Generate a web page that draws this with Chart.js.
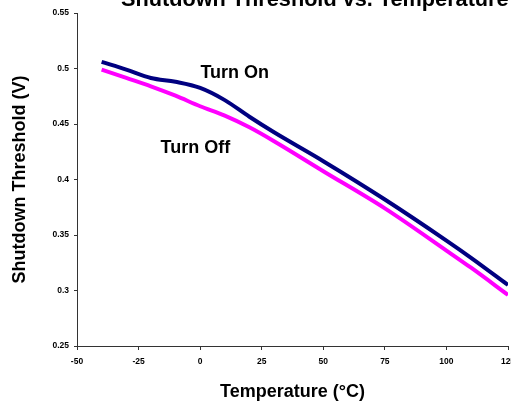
<!DOCTYPE html>
<html>
<head>
<meta charset="utf-8">
<script src="https://cdn.jsdelivr.net/npm/chart.js@4/dist/chart.umd.min.js"></script>
<style>
  html, body { margin: 0; padding: 0; background: #fff; }
  canvas { display: block; }
</style>
</head>
<body>
<canvas id="thresholdChart" width="511" height="405"></canvas>
<script>
const chartTitle = 'Shutdown Threshold vs. Temperature';
const xAxisTitle = 'Temperature (°C)';
const yAxisTitle = 'Shutdown Threshold (V)';

const temps = [-40, -30, -20, -10, 0, 10, 20, 30, 50, 75, 100, 110, 125];
const turnOn = [0.506, 0.499, 0.4915, 0.488, 0.4825, 0.4715, 0.4565, 0.4425, 0.4165, 0.382, 0.345, 0.3295, 0.305];
const turnOff = [0.499, 0.4915, 0.484, 0.4755, 0.466, 0.4575, 0.447, 0.4345, 0.4075, 0.374, 0.336, 0.3205, 0.296];

const xTicks = [-50, -25, 0, 25, 50, 75, 100, 125];
const yTicks = [0.25, 0.3, 0.35, 0.4, 0.45, 0.5, 0.55];

const seriesNames = ['Turn On', 'Turn Off'];

document.addEventListener('DOMContentLoaded', () => {
  renderChart();
});

function toPoints(xs, ys) {
  return xs.map((x, i) => ({ x: x, y: ys[i] }));
}

// draws the clipped title and the in-plot series labels
const textPlugin = {
  id: 'textPlugin',
  afterDraw(chart) {
    const ctx = chart.ctx;
    const xs = chart.scales.x;
    const ys = chart.scales.y;
    ctx.save();
    ctx.fillStyle = '#000';
    ctx.textAlign = 'left';
    ctx.textBaseline = 'alphabetic';

    ctx.font = 'bold 21.7px "Liberation Sans", Arial, sans-serif';
    ctx.fillText(chartTitle, 121, 6);

    ctx.font = 'bold 18px "Liberation Sans", Arial, sans-serif';
    ctx.fillText(seriesNames[0], xs.getPixelForValue(0.1), ys.getPixelForValue(0.4915));
    ctx.fillText(seriesNames[1], xs.getPixelForValue(-16.1), ys.getPixelForValue(0.424));
    ctx.restore();
  }
};

function renderChart() {
  const ctx = document.getElementById('thresholdChart').getContext('2d');
  const axisColor = '#333';
  const tickFont = { family: '"Liberation Sans", Arial, sans-serif', size: 8.5, weight: 'bold' };
  const titleFont = { family: '"Liberation Sans", Arial, sans-serif', size: 18, weight: 'bold' };

  new Chart(ctx, {
    type: 'line',
    data: {
      datasets: [{
        label: seriesNames[0],
        data: toPoints(temps, turnOn),
        borderColor: '#000080',
        borderWidth: 4,
        pointRadius: 0,
        fill: false,
        cubicInterpolationMode: 'monotone'
      }, {
        label: seriesNames[1],
        data: toPoints(temps, turnOff),
        borderColor: '#FF00FF',
        borderWidth: 4,
        pointRadius: 0,
        fill: false,
        cubicInterpolationMode: 'monotone'
      }]
    },
    options: {
      responsive: false,
      animation: false,
      layout: { padding: { top: 13, right: 3, left: 0, bottom: 0 } },
      plugins: {
        legend: { display: false },
        tooltip: { enabled: false },
        title: { display: false }
      },
      scales: {
        x: {
          type: 'linear',
          min: -50,
          max: 125,
          afterBuildTicks: (scale) => { scale.ticks = xTicks.map(v => ({ value: v })); },
          afterFit: (scale) => {
            scale.height = 59;
            scale.paddingLeft = 0;
            scale.paddingRight = 0;
          },
          ticks: {
            color: '#000',
            font: tickFont,
            padding: 7,
            maxRotation: 0,
            autoSkip: false
          },
          grid: { drawOnChartArea: false, color: axisColor, tickLength: 4 },
          border: { color: axisColor, width: 1 },
          title: { display: true, text: xAxisTitle, color: '#000', font: titleFont, padding: { top: 0, bottom: 2 } }
        },
        y: {
          min: 0.25,
          max: 0.55,
          afterBuildTicks: (scale) => { scale.ticks = yTicks.map(v => ({ value: v })); },
          afterFit: (scale) => {
            scale.width = 77;
            scale.paddingTop = 0;
            scale.paddingBottom = 0;
          },
          ticks: {
            color: '#000',
            font: tickFont,
            padding: 5,
            callback: (v) => String(parseFloat(v.toFixed(2)))
          },
          grid: { drawOnChartArea: false, color: axisColor, tickLength: 3 },
          border: { color: axisColor, width: 1 },
          title: { display: true, text: yAxisTitle, color: '#000', font: titleFont, padding: { top: 9, bottom: 0 } }
        }
      }
    },
    plugins: [textPlugin]
  });
}
</script>
</body>
</html>
